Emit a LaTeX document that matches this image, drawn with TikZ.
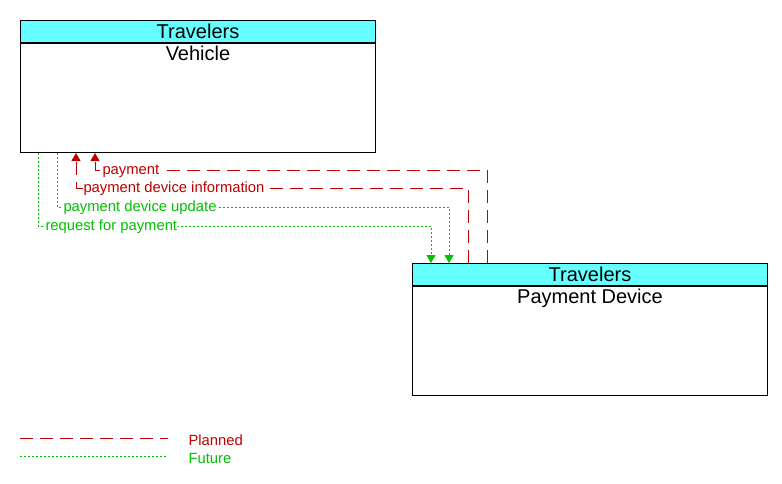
\documentclass[tikz,border=0pt]{standalone}
\usepackage{fontspec}
\setmainfont{Liberation Sans}
\usetikzlibrary{arrows.meta,positioning}
\definecolor{planred}{RGB}{192,0,0}
\definecolor{futgreen}{RGB}{0,192,0}
\definecolor{hdrcyan}{RGB}{102,255,255}

\begin{document}
\begin{tikzpicture}[x=1pt,y=-1pt,line width=1pt,
  hdr/.style={draw,fill=hdrcyan,minimum width=355pt,minimum height=22pt,inner sep=0pt,font=\fontsize{20}{22}\selectfont},
  body/.style={draw,minimum width=355pt,minimum height=109pt,inner sep=0pt},
  bodytxt/.style={font=\fontsize{20}{22}\selectfont,inner sep=2.5pt},
  planned/.style={planred,dash pattern=on 13pt off 7pt},
  future/.style={futgreen,dash pattern=on 2pt off 2pt},
  tip/.style={-{Triangle[width=9pt,length=8pt]}},
  flowlbl/.style={fill=white,inner sep=1pt,anchor=west,yshift=-1pt,font=\fontsize{14.8}{16}\selectfont}]
\useasboundingbox (0,0) rectangle (782,483);
% Vehicle
\node[hdr,anchor=north west] (vehhead) at (20,20) {Travelers};
\node[body,below=0pt of vehhead] (veh) {};
\node[bodytxt,below=0pt of vehhead] (vehname) {Vehicle};
% Payment Device
\node[hdr,anchor=north west] (payhead) at (412,263) {Travelers};
\node[body,below=0pt of payhead] (paydev) {};
\node[bodytxt,below=0pt of payhead] (payname) {Payment Device};
% bends
\coordinate (pay1) at (487,170);
\coordinate (pay2) at (95,170);
\coordinate (inf1) at (468,188);
\coordinate (inf2) at (76,188);
\coordinate (upd1) at (57,207);
\coordinate (upd2) at (449,207);
\coordinate (req1) at (38,226);
\coordinate (req2) at (431,226);
% flows
\draw[planned,tip] (payhead.north -| pay1) |- (pay2) -- (veh.south -| pay2);
\draw[planned,tip] (payhead.north -| inf1) |- (inf2) -- (veh.south -| inf2);
\draw[future,tip] (veh.south -| upd1) |- (upd2) -- (payhead.north -| upd2);
\draw[future,tip] (veh.south -| req1) |- (req2) -- (payhead.north -| req2);
\node[flowlbl,text=planred] (lpay) at (101,170) {payment};
\node[flowlbl,text=planred] (linf) at (82,188) {payment device information};
\node[flowlbl,text=futgreen] (lupd) at (62,207) {payment device update};
\node[flowlbl,text=futgreen] (lreq) at (44,226) {request for payment};
% legend
\coordinate (lg1) at (20,438);
\coordinate (lg2) at (168,438);
\coordinate (lg3) at (20,456);
\coordinate (lg4) at (168,456);
\draw[planned] (lg1) -- (lg2);
\draw[future] (lg3) -- (lg4);
\node[flowlbl,text=planred,inner sep=0pt] (lplan) at (188,439) {Planned};
\node[flowlbl,text=futgreen,inner sep=0pt] (lfut) at (188,457) {Future};
\end{tikzpicture}
\end{document}
